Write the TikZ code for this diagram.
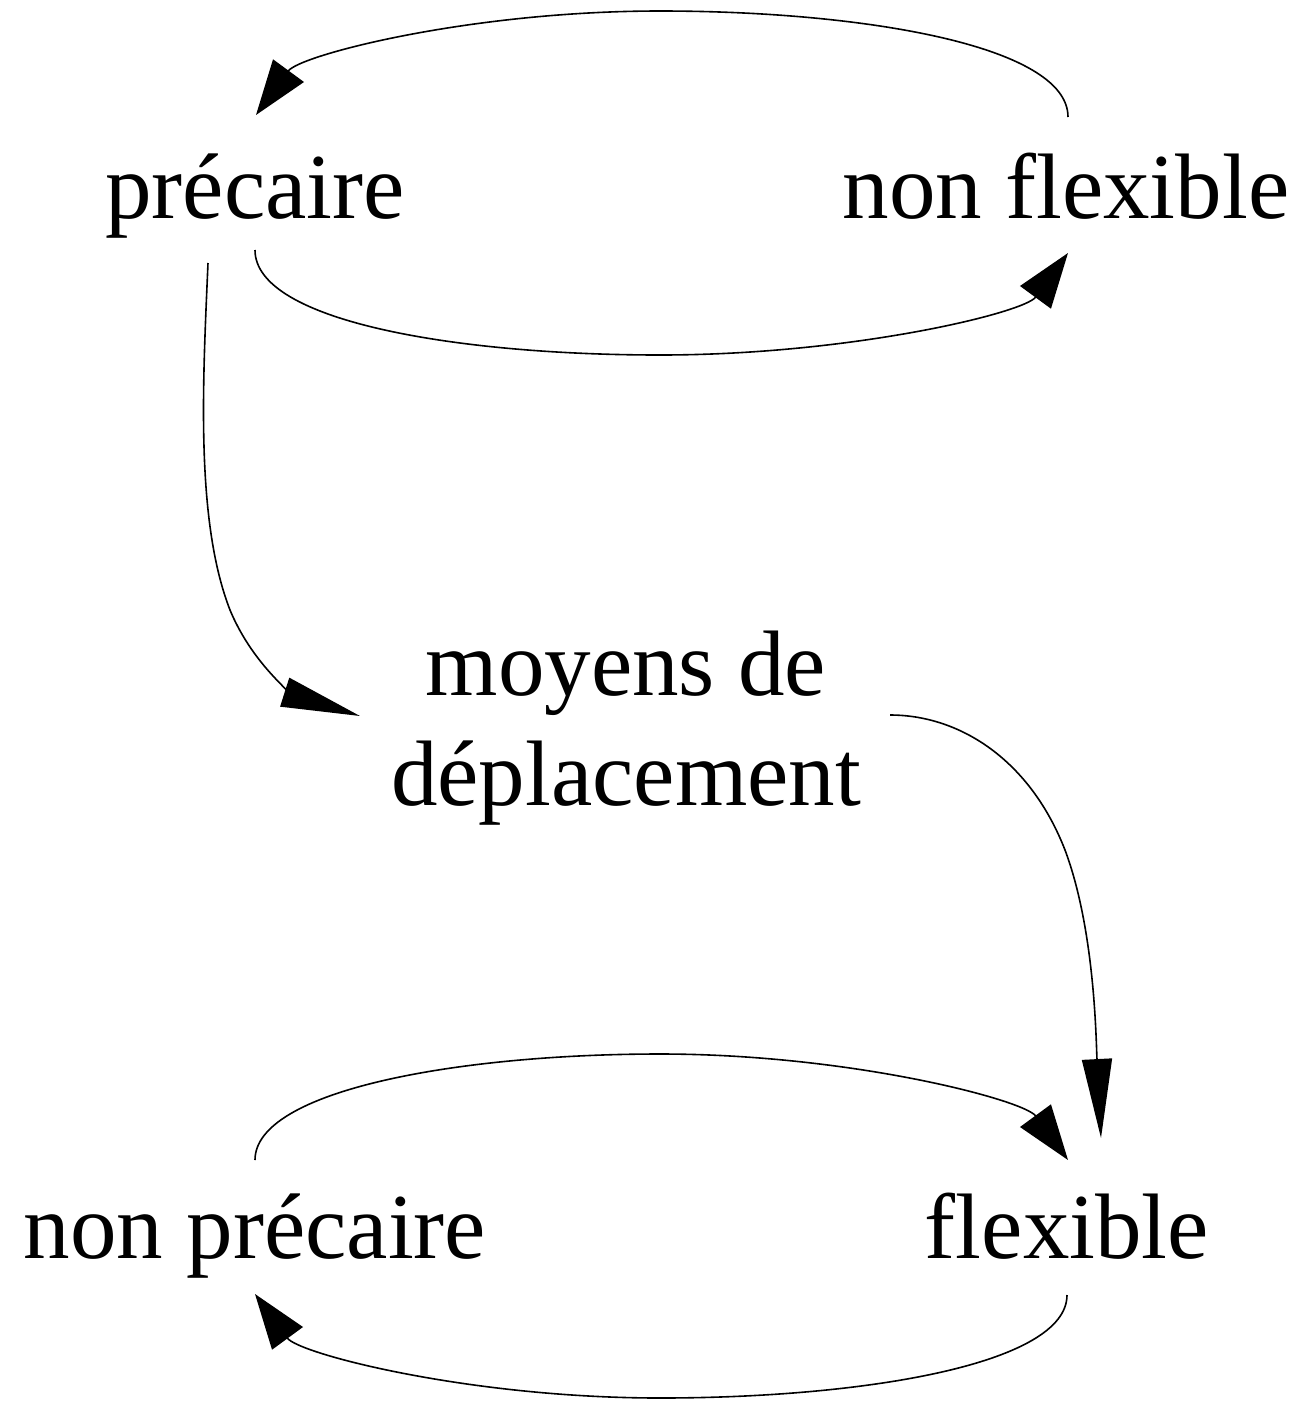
\documentclass[tikz,border=0pt]{standalone}
\usepackage{fontspec}
\setmainfont{Liberation Serif}
\usetikzlibrary{arrows.meta,calc}
\begin{document}
\begin{tikzpicture}[x=1pt,y=-1pt,
  lbl/.style={anchor=base,inner sep=0pt,font=\fontsize{93}{110}\selectfont,align=center},
  edg/.style={line width=1.6pt,-{Triangle[length=55pt,width=38pt]}},
  edglong/.style={line width=1.6pt,-{Triangle[length=79pt,width=30pt]}}]
\useasboundingbox (0,0) rectangle (1300,1401);
\node[lbl] (pr) at (255,218) {précaire};
\node[lbl] (nf) at (1066,218) {non flexible};
\node[lbl] (mo) at (626,805) {moyens de\\déplacement};
\node[lbl] (np) at (255,1258) {non précaire};
\node[lbl] (fl) at (1067,1258) {flexible};
% non flexible -> precaire
\draw[edg] ($(nf.base)+(2,-101)$) .. controls +(0,-72) and (860,11) .. (660,11)
   .. controls (470,11) and (300,55) .. ($(pr.base)+(1,-103)$);
% precaire -> non flexible
\draw[edg] ($(pr.base)+(0,32)$) .. controls +(0,72) and (460,355) .. (660,355)
   .. controls (850,355) and (1024,313) .. ($(nf.base)+(2,35)$);
% precaire -> moyens
\draw[edglong] ($(pr.base)+(-47,45)$) .. controls (203,380) and (195,520) .. (230,610)
   .. controls (255,670) and (300,697) .. ($(mo.base)+(-266,-89)$);
% moyens -> flexible
\draw[edglong] ($(mo.base)+(264,-90)$) .. controls (960,715) and (1030,760) .. (1065,850)
   .. controls (1095,930) and (1096,1040) .. ($(fl.base)+(34,-120)$);
% non precaire -> flexible
\draw[edg] ($(np.base)+(0,-98)$) .. controls +(0,-70) and (460,1054) .. (660,1054)
   .. controls (850,1054) and (1024,1100) .. ($(fl.base)+(1,-98)$);
% flexible -> non precaire
\draw[edg] ($(fl.base)+(0,37)$) .. controls +(0,70) and (860,1398) .. (660,1398)
   .. controls (470,1398) and (299,1354) .. ($(np.base)+(0,36)$);
\end{tikzpicture}
\end{document}
